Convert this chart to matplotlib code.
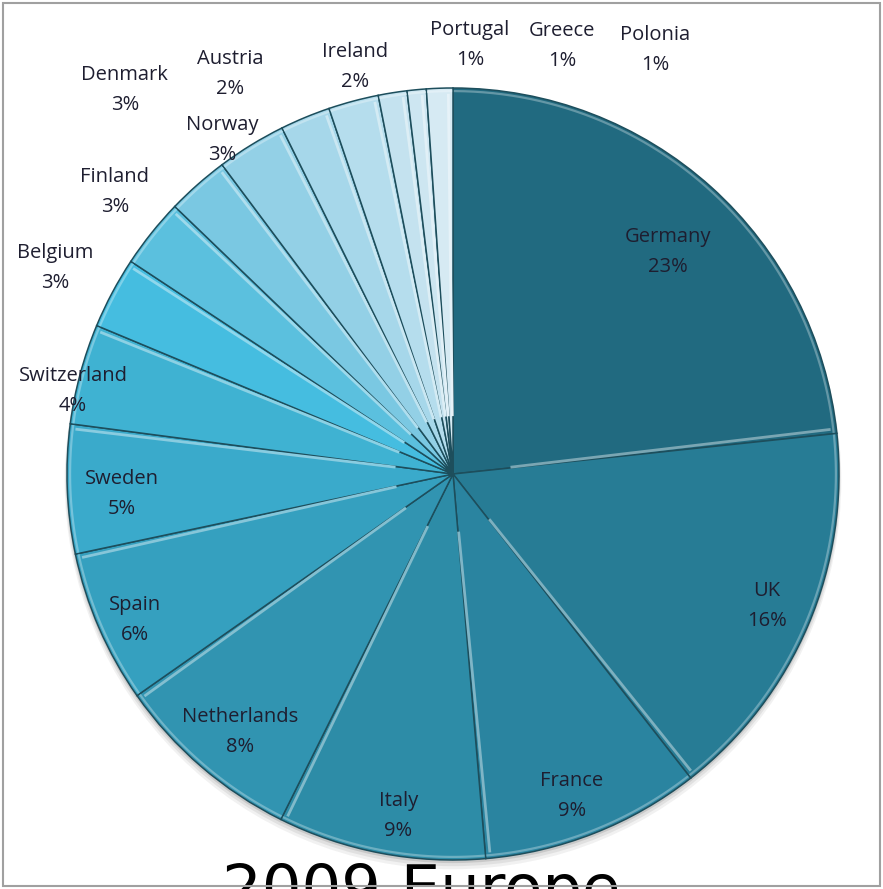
import numpy as np
import matplotlib
matplotlib.use("Agg")
import matplotlib.pyplot as plt
from matplotlib.colors import to_rgb
from matplotlib.patches import Circle, Rectangle

# market share by country, clockwise from 12 o'clock
countries = ["Germany", "UK", "France", "Italy", "Netherlands", "Spain", "Sweden",
             "Switzerland", "Belgium", "Finland", "Norway", "Denmark", "Austria",
             "Ireland", "Portugal", "Greece", "Polonia"]
shares = [23.3, 16.1, 9.2, 8.7, 7.9, 6.4, 5.4, 4.2, 3.0, 2.9, 2.6, 2.9, 2.1,
          2.1, 1.2, 0.8, 1.1]
colors = ["#216a80", "#277c95", "#2a84a0", "#2d8ca7", "#3194b1", "#35a0bf",
          "#3aaacb", "#3fb2d2", "#45bde0", "#5bc0de", "#7ac8e2", "#93d0e6",
          "#a6d7ea", "#b5dded", "#c4e2ef", "#cde6f1", "#d6eaf3"]
title = "2009 Europe"

# label anchors in pie-radius units (centre of the two-line label)
label_xy = [(0.557, 0.575), (0.813, -0.342), (0.308, -0.834), (-0.142, -0.886),
            (-0.552, -0.668), (-0.824, -0.378), (-0.858, -0.052), (-0.984, 0.215),
            (-1.031, 0.534), (-0.876, 0.731), (-0.598, 0.865), (-0.850, 0.995),
            (-0.578, 1.036), (-0.254, 1.054), (0.044, 1.111), (0.282, 1.109),
            (0.523, 1.098)]

W, H = 883, 889
CX, CY, R = 453, 474, 386  # pie centre / radius in pixels


def lighten(c, f):
    r, g, b = to_rgb(c)
    return (r + (1 - r) * f, g + (1 - g) * f, b + (1 - b) * f)


fig = plt.figure(figsize=(W / 100, H / 100), dpi=100)
ax = fig.add_axes([0, 0, 1, 1])

# faint shadow under the lower rim
for i, a in enumerate([0.06, 0.08, 0.12]):
    ax.add_patch(Circle((0.0, -0.006 * (3 - i)), 1.0 + 0.002 * (3 - i),
                        color="#202020", alpha=a, lw=0, zorder=0))

wedges, _ = ax.pie(shares, colors=colors, startangle=90, counterclock=False,
                   radius=1.0, center=(0, 0),
                   wedgeprops=dict(edgecolor="#1d4e5c", linewidth=1.1))

# bevel highlight along the trailing edge of each slice
for w, c in zip(wedges, colors):
    a = np.deg2rad(w.theta1 + 0.7)
    rr = np.array([0.15, 0.985])
    ax.plot(rr * np.cos(a), rr * np.sin(a), color=lighten(c, 0.4), lw=2.0,
            solid_capstyle="butt", zorder=3)
    # rim highlight
    th = np.linspace(np.deg2rad(w.theta1 + 0.3), np.deg2rad(w.theta2 - 0.3), 60)
    ax.plot(0.992 * np.cos(th), 0.992 * np.sin(th), color=lighten(c, 0.3),
            lw=1.6, zorder=3)

total = sum(shares)
for name, v, (lx, ly) in zip(countries, shares, label_xy):
    pct = round(v / total * 100)
    ax.text(lx, ly, f"{name}\n{pct}%", ha="center", va="center",
            fontsize=14.5, family="Open Sans", color="#1e1e30",
            linespacing=1.7, zorder=5)

ax.text((421 - CX) / R, (CY - 909) / R, title, ha="center", va="baseline",
        fontsize=45, family="DejaVu Sans", color="black", clip_on=False)

ax.set_xlim(-CX / R, (W - CX) / R)
ax.set_ylim(-(H - CY) / R, CY / R)
ax.set_aspect("auto")
ax.axis("off")

# outer frame
fig.patches.append(Rectangle((3 / W, 3 / H), (W - 6) / W, (H - 6) / H,
                             transform=fig.transFigure, fill=False,
                             edgecolor="#a0a0a0", lw=1.5))

fig.savefig("out.png", dpi=100, facecolor="white")
